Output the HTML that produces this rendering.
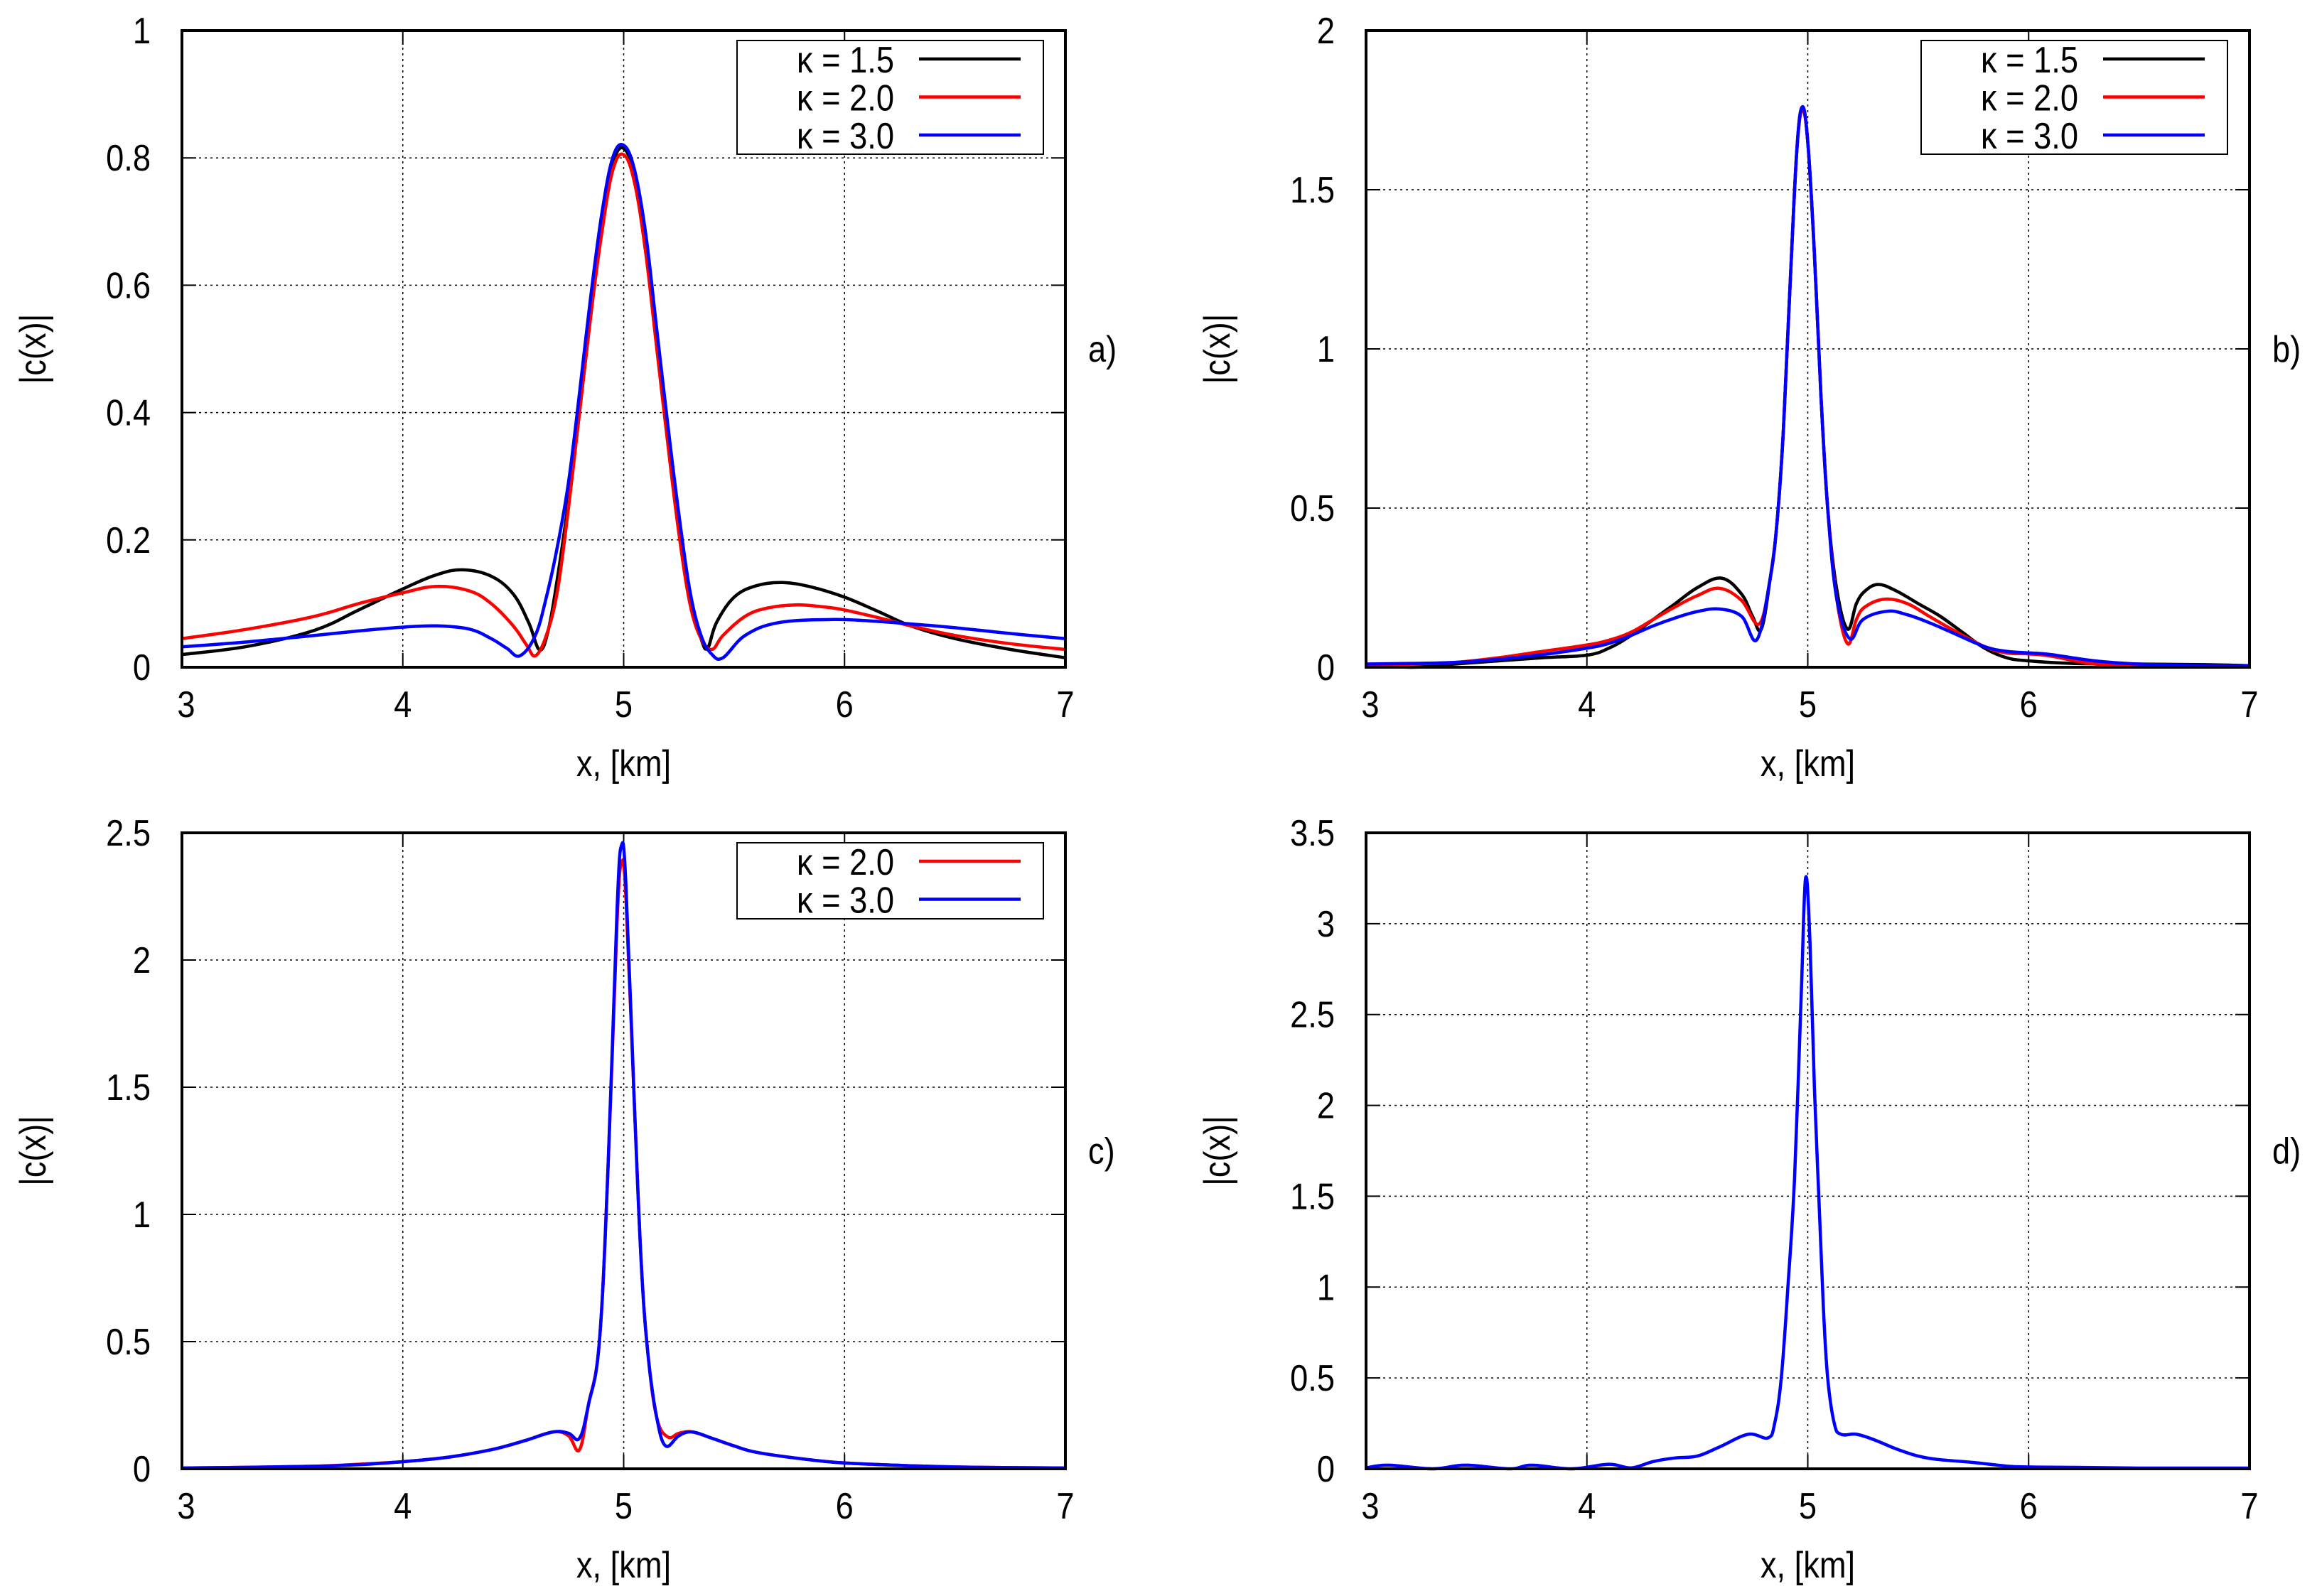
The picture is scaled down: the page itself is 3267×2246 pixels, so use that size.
<!DOCTYPE html>
<html><head><meta charset="utf-8"><style>
html,body{margin:0;padding:0;background:#fff}
svg{display:block}
text{font-family:"Liberation Sans Narrow","Liberation Sans",sans-serif;fill:#000}
</style></head><body>
<svg id="fig" xmlns="http://www.w3.org/2000/svg" width="3267" height="2246" viewBox="0 0 3267 2246"></svg>
<script>
// ---- Panel a data ----
const aBlackX=[3,3.3,3.6,3.8,4,4.15,4.27,4.4,4.5,4.57,4.62,4.66,4.7,4.75,4.8,4.85,4.9,4.95,5,5.05,5.1,5.15,5.2,5.25,5.3,5.35,5.38,5.42,5.5,5.6,5.72,5.85,6,6.15,6.3,6.5,6.75,7];
const aBlackY=[0.02,0.033,0.058,0.09,0.123,0.145,0.153,0.143,0.115,0.07,0.027,0.06,0.14,0.26,0.40,0.55,0.69,0.79,0.815,0.77,0.66,0.51,0.36,0.22,0.11,0.045,0.03,0.07,0.11,0.128,0.133,0.126,0.11,0.088,0.065,0.045,0.028,0.015];
const aRedX=[3,3.3,3.6,3.8,4,4.15,4.3,4.4,4.5,4.56,4.6,4.65,4.7,4.75,4.8,4.85,4.9,4.95,5,5.05,5.1,5.15,5.2,5.25,5.3,5.35,5.4,5.45,5.55,5.65,5.78,5.9,6,6.15,6.3,6.5,6.75,7];
const aRedY=[0.045,0.06,0.08,0.1,0.117,0.127,0.12,0.1,0.065,0.035,0.018,0.05,0.12,0.25,0.40,0.55,0.68,0.78,0.805,0.76,0.65,0.5,0.35,0.21,0.1,0.045,0.028,0.05,0.08,0.093,0.098,0.095,0.09,0.078,0.065,0.05,0.037,0.028];
const aBlueX=[3,3.3,3.6,3.8,4,4.15,4.3,4.4,4.47,4.53,4.6,4.65,4.7,4.75,4.8,4.85,4.9,4.95,5,5.05,5.1,5.15,5.2,5.25,5.3,5.35,5.4,5.45,5.55,5.7,5.95,6.15,6.3,6.5,6.75,7];
const aBlueY=[0.032,0.04,0.05,0.057,0.063,0.065,0.06,0.045,0.03,0.018,0.05,0.11,0.19,0.29,0.43,0.58,0.71,0.8,0.82,0.78,0.68,0.53,0.38,0.24,0.12,0.05,0.02,0.015,0.05,0.07,0.075,0.072,0.068,0.062,0.053,0.045];
// ---- Panel b data ----
const bBlackX=[3,3.2,3.4,3.6,3.8,4,4.1,4.2,4.3,4.4,4.5,4.61,4.7,4.75,4.79,4.83,4.86,4.89,4.92,4.95,4.975,5,5.03,5.06,5.09,5.13,5.18,5.22,5.26,5.32,5.4,5.5,5.6,5.7,5.8,5.9,6,6.2,6.5,6.8,7];
const bBlackY=[0.01,0.0,0.01,0.02,0.03,0.038,0.06,0.1,0.15,0.2,0.25,0.28,0.23,0.16,0.12,0.28,0.45,0.75,1.2,1.62,1.76,1.65,1.3,0.85,0.5,0.25,0.12,0.2,0.24,0.26,0.24,0.2,0.16,0.11,0.06,0.03,0.02,0.012,0.01,0.008,0.005];
const bRedX=[3,3.2,3.4,3.6,3.8,4,4.1,4.2,4.3,4.4,4.5,4.6,4.7,4.78,4.83,4.86,4.89,4.92,4.95,4.975,5,5.03,5.06,5.09,5.13,5.18,5.22,5.26,5.35,5.45,5.55,5.65,5.8,5.9,6,6.1,6.3,6.5,6.8,7];
const bRedY=[0.005,0.01,0.015,0.03,0.05,0.07,0.085,0.11,0.15,0.19,0.225,0.248,0.21,0.136,0.28,0.45,0.75,1.2,1.62,1.75,1.65,1.3,0.85,0.5,0.22,0.074,0.15,0.19,0.214,0.2,0.16,0.12,0.065,0.045,0.042,0.035,0.01,0.005,0.003,0.003];
const bBlueX=[3,3.2,3.4,3.6,3.8,4,4.1,4.2,4.3,4.4,4.5,4.6,4.7,4.77,4.83,4.86,4.89,4.92,4.95,4.975,5,5.03,5.06,5.09,5.13,5.19,5.25,5.36,5.45,5.55,5.65,5.8,5.9,6,6.1,6.3,6.5,6.8,7];
const bBlueY=[0.01,0.012,0.015,0.025,0.04,0.06,0.075,0.1,0.13,0.155,0.175,0.183,0.16,0.087,0.28,0.45,0.75,1.2,1.62,1.76,1.65,1.3,0.85,0.5,0.22,0.09,0.15,0.176,0.165,0.14,0.11,0.065,0.05,0.045,0.04,0.02,0.01,0.005,0.005];
// ---- Panel c data ----
const cRedX=[3,3.3,3.6,3.8,4,4.2,4.4,4.55,4.68,4.75,4.8,4.84,4.89,4.93,4.97,4.99,5.01,5.05,5.08,5.11,5.15,5.2,5.25,5.31,5.4,5.5,5.6,5.8,6,6.3,6.6,7];
const cRedY=[0.003,0.006,0.01,0.018,0.028,0.045,0.075,0.11,0.145,0.13,0.075,0.25,0.5,1.2,2.15,2.38,2.25,1.4,0.8,0.45,0.2,0.125,0.14,0.145,0.12,0.09,0.065,0.04,0.023,0.012,0.006,0.003];
const cBlueX=[3,3.3,3.6,3.8,4,4.2,4.4,4.55,4.68,4.75,4.8,4.84,4.89,4.93,4.97,4.99,5.01,5.05,5.08,5.11,5.15,5.19,5.25,5.31,5.4,5.5,5.6,5.8,6,6.3,6.6,7];
const cBlueY=[0.003,0.006,0.01,0.016,0.028,0.045,0.075,0.11,0.145,0.14,0.12,0.25,0.5,1.2,2.2,2.45,2.3,1.4,0.8,0.45,0.2,0.09,0.13,0.145,0.12,0.09,0.065,0.04,0.023,0.012,0.006,0.003];
// ---- Panel d data ----
const dBlueX=[3,3.1,3.3,3.45,3.65,3.75,3.93,4.1,4.2,4.3,4.4,4.5,4.6,4.73,4.82,4.85,4.88,4.91,4.94,4.97,4.99,5.01,5.03,5.05,5.07,5.09,5.12,5.15,5.22,5.3,5.4,5.5,5.6,5.75,5.9,6,6.2,6.5,6.8,7];
const dBlueY=[0.005,0.02,0.0,0.02,0.0,0.02,0.0,0.025,0.005,0.04,0.06,0.07,0.12,0.19,0.17,0.25,0.5,1.0,1.6,2.6,3.25,2.9,2.1,1.5,0.9,0.5,0.25,0.19,0.19,0.16,0.11,0.07,0.05,0.035,0.015,0.01,0.008,0.004,0.004,0.004];
// ---- axis ticks ----
const xTicks=["3","4","5","6","7"];
const aYTicks=["0","0.2","0.4","0.6","0.8","1"];
const bYTicks=["0","0.5","1","1.5","2"];
const cYTicks=["0","0.5","1","1.5","2","2.5"];
const dYTicks=["0","0.5","1","1.5","2","2.5","3","3.5"];
const legendA=["κ = 1.5","κ = 2.0","κ = 3.0"];
const legendC=["κ = 2.0","κ = 3.0"];

const NS="http://www.w3.org/2000/svg";
const svg=document.getElementById('fig');
const SQ=0.87;
function mk(tag,attrs,parent){const e=document.createElementNS(NS,tag);for(const k in attrs)e.setAttribute(k,attrs[k]);(parent||svg).appendChild(e);return e;}
function txt(x,y,anchor,parent,extra){
  return mk('text',{x:0,y:0,'font-size':52,'text-anchor':anchor,transform:`translate(${x},${y}) ${extra||''} scale(${SQ},1)`},parent);
}
function smoothPath(pts){
  let d="M"+pts[0][0].toFixed(1)+","+pts[0][1].toFixed(1);
  for(let i=0;i<pts.length-1;i++){
    const p0=pts[Math.max(0,i-1)],p1=pts[i],p2=pts[i+1],p3=pts[Math.min(pts.length-1,i+2)];
    const t=0.18;
    const c1=[p1[0]+(p2[0]-p0[0])*t,p1[1]+(p2[1]-p0[1])*t];
    const c2=[p2[0]-(p3[0]-p1[0])*t,p2[1]-(p3[1]-p1[1])*t];
    d+=" C"+c1[0].toFixed(1)+","+c1[1].toFixed(1)+" "+c2[0].toFixed(1)+","+c2[1].toFixed(1)+" "+p2[0].toFixed(1)+","+p2[1].toFixed(1);
  }
  return d;
}
function panel(id,L,T,R,B,yTicks,series,legend,tag){
  const g=mk('g',{});
  
  
  const ymax=parseFloat(yTicks[yTicks.length-1]);
  const sx=v=>L+(v-3)/4*(R-L);
  const sy=v=>B-v/ymax*(B-T);
  xTicks.forEach((t,i)=>{const v=parseFloat(t);const x=sx(v);
    if(i>0&&i<xTicks.length-1){const gl=mk('line',{x1:x,y1:T,x2:x,y2:B,stroke:'#000','stroke-width':1.5,'stroke-dasharray':'3,5'},g);
      }
    mk('line',{x1:x,y1:B,x2:x,y2:B-20,stroke:'#000','stroke-width':2},g);
    mk('line',{x1:x,y1:T,x2:x,y2:T+20,stroke:'#000','stroke-width':2},g);
    const tx=txt(x+(i===0?6:0),B+70,'middle',g);tx.textContent=t;
    
  });
  yTicks.forEach((t,i)=>{const v=parseFloat(t);const y=sy(v);
    if(i>0&&i<yTicks.length-1){const gl=mk('line',{x1:L,y1:y,x2:R,y2:y,stroke:'#000','stroke-width':1.5,'stroke-dasharray':'3,5'},g);
      }
    mk('line',{x1:L,y1:y,x2:L+20,y2:y,stroke:'#000','stroke-width':2},g);
    mk('line',{x1:R,y1:y,x2:R-20,y2:y,stroke:'#000','stroke-width':2},g);
    const ty=txt(L-44,y+18,'end',g);ty.textContent=t;
    
  });
  let lg=null;
  if(legend){
    const rows=legend.length;
    lg=mk('g',{});
    
    mk('rect',{x:R-462,y:T+14,width:431,height:rows===3?160:107,fill:'#fff',stroke:'#000','stroke-width':2},lg);
  }
  series.forEach(s=>{
    const pts=s.x.map((v,i)=>[sx(v),sy(s.y[i])]);
    const p=mk('path',{d:smoothPath(pts),fill:'none',stroke:s.c,'stroke-width':4.5,'stroke-linejoin':'round'},g);
    
  });
  if(legend){
    svg.appendChild(lg);
    const cols=legend.length===3?['#000','#f00','#00f']:['#f00','#00f'];
    legend.forEach((t,i)=>{const yc=T+40+i*53.5;
      const e=mk('g',{},lg);
      const tt=txt(R-241,yc+19,'end',e);tt.textContent=t;
      mk('line',{x1:R-206,y1:yc,x2:R-63,y2:yc,stroke:cols[i],'stroke-width':4.5},e);
    });
  }
  const fr=mk('rect',{x:L,y:T,width:R-L,height:B-T,fill:'none',stroke:'#000','stroke-width':4});
  
  const xl=txt((L+R)/2,B+153,'middle');xl.textContent='x, [km]';
  
  const yt=mk('text',{x:0,y:0,'font-size':52,'text-anchor':'middle',transform:`translate(${L-192},${(T+B)/2}) rotate(-90) scale(${SQ},1)`});yt.textContent='|c(x)|';
  
  const pl=txt(R+32,(T+B)/2+18,'start');pl.textContent=tag;
  
}
panel('a',256,43,1499,939,aYTicks,[
  {x:aBlackX,y:aBlackY,c:'#000',name:'series-kappa-1-5'},
  {x:aRedX,y:aRedY,c:'#f00',name:'series-kappa-2-0'},
  {x:aBlueX,y:aBlueY,c:'#00f',name:'series-kappa-3-0'}],legendA,'a)');
panel('b',1922,43,3165,939,bYTicks,[
  {x:bBlackX,y:bBlackY,c:'#000',name:'series-kappa-1-5'},
  {x:bRedX,y:bRedY,c:'#f00',name:'series-kappa-2-0'},
  {x:bBlueX,y:bBlueY,c:'#00f',name:'series-kappa-3-0'}],legendA,'b)');
panel('c',256,1172,1499,2067,cYTicks,[
  {x:cRedX,y:cRedY,c:'#f00',name:'series-kappa-2-0'},
  {x:cBlueX,y:cBlueY,c:'#00f',name:'series-kappa-3-0'}],legendC,'c)');
panel('d',1922,1172,3165,2067,dYTicks,[
  {x:dBlueX,y:dBlueY,c:'#00f',name:'series-kappa-3-0'}],null,'d)');
</script>
</body></html>
